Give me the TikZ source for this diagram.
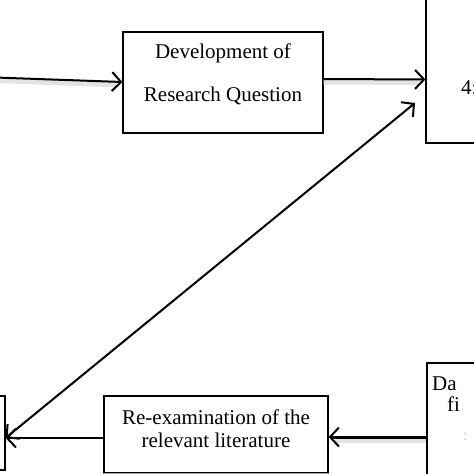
\documentclass[tikz,border=0pt]{standalone}
\usepackage{fontspec}
\setmainfont{Liberation Serif}
\usetikzlibrary{arrows.meta}
\tikzset{
    stagebox/.style={draw=black, line width=1.2pt, fill=white, inner sep=0pt},
    stagetext/.style={font=\fontsize{21}{23}\selectfont, align=center, inner sep=0pt},
    flow/.style={line width=2pt, -{Straight Barb[length=9pt,width=19pt,line width=2pt]}},
    shade/.style={preaction={draw=gray!22, line width=5pt, -, shorten >=6pt, transform canvas={yshift=-3pt}}}
}
\begin{document}
\begin{tikzpicture}[x=1pt,y=-1pt]
        \clip (0,0) rectangle (474,474);
        \fill [white] (0,0) rectangle (474,474);
        % boxes
        \node [stagebox, minimum width=200pt, minimum height=101pt] (question) at (223,82.5) {};
        \node [stagebox, minimum width=100pt, minimum height=200pt] (result) at (476,43) {};
        \node [stagebox, minimum width=224pt, minimum height=77pt] (review) at (216,434.5) {};
        \node [stagebox, minimum width=105pt, minimum height=74pt] (start) at (-47.5,433) {};
        \node [stagebox, minimum width=100pt, minimum height=112pt] (analysis) at (477,419) {};
        \draw [gray!70, line width=1.5pt] (review.south west) -- (review.south east);
        \draw [gray!70, line width=1.5pt] (analysis.south west) -- (analysis.south east);
        % texts
        \node [stagetext] (questiontext) at (223,74) {Development of\\[20pt]Research Question};
        \node [stagetext] (reviewtext) at (216,428.5) {Re-examination of the\\relevant literature};
        \node [stagetext, anchor=west] (resulttext) at (461,88) {4:};
        \node [stagetext, anchor=west] (analysistext1) at (432,384) {Da};
        \node [stagetext, anchor=west] (analysistext2) at (447,404) {fi};
        \node [stagetext, anchor=west, text=gray!40, font=\fontsize{16}{18}\selectfont] (analysistext3) at (463,437) {:};
        % connectors
        \coordinate (entry) at (-5,77.5);
        \coordinate (diagtip) at (415,103);
        \draw [flow, shade] (entry) -- ([yshift=0.5pt]question.west);
        \draw [flow, shade] ([yshift=3.5pt]question.east) -- ([yshift=3pt]question.east -| result.west);
        \draw [flow, {Straight Barb[length=9pt,width=19pt,line width=2pt]}-{Straight Barb[length=9pt,width=19pt,line width=2pt]}] ([yshift=-5pt]start.east) -- (diagtip);
        \draw [flow] ([yshift=-3.5pt]review.west) -- ([yshift=-3.5pt]review.west -| start.east);
        \draw [flow, shade, line width=3pt] ([yshift=-18pt]analysis.west) -- ([yshift=-18pt]analysis.west -| review.east);
    \end{tikzpicture}
\end{document}
